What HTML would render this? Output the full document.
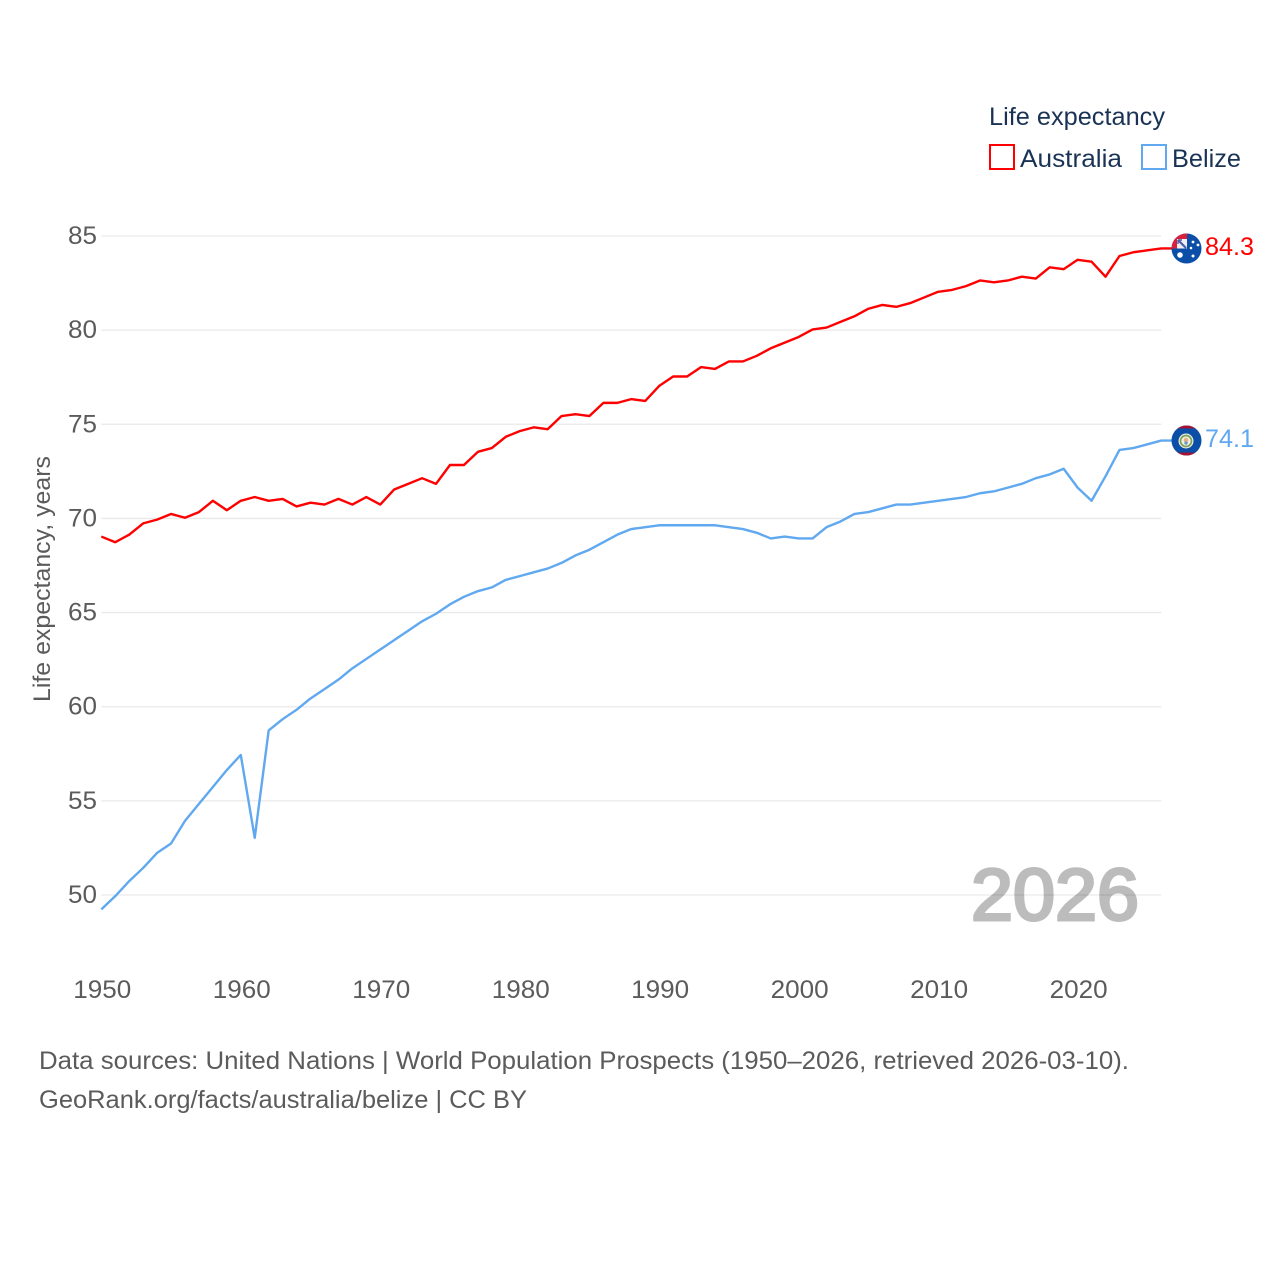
<!DOCTYPE html>
<html>
<head>
<meta charset="utf-8">
<title>Life expectancy: Australia and Belize</title>
<style>
html,body{margin:0;padding:0;background:#fff;width:1280px;height:1280px;overflow:hidden}
svg{display:block}
text{font-family:"Liberation Sans",sans-serif}
</style>
</head>
<body>
<svg id="chart" xmlns="http://www.w3.org/2000/svg" width="1280" height="1280" viewBox="0 0 1280 1280">
  <defs>
    <clipPath id="flag-au-clip"><circle cx="1186.5" cy="248.5" r="15"/></clipPath>
    <clipPath id="flag-bz-clip"><circle cx="1186.5" cy="440.5" r="15"/></clipPath>
  </defs>
  <g id="grid"></g>
  <g id="y-ticks"></g>
  <g id="x-ticks"></g>
  <text transform="translate(50,702) rotate(-90)" font-size="24" fill="#5b5b5b" textLength="246" lengthAdjust="spacingAndGlyphs">Life expectancy, years</text>
  <g id="series"></g>

  <g>
    <text x="989" y="125" font-size="25" fill="#1a3355" textLength="176" lengthAdjust="spacingAndGlyphs">Life expectancy</text>
    <g>
      <rect x="990" y="145" width="24" height="24" fill="#fff" stroke="#ff0000" stroke-width="2"/>
      <text x="1020" y="167" font-size="25" fill="#1a3355" textLength="102" lengthAdjust="spacingAndGlyphs">Australia</text>
    </g>
    <g>
      <rect x="1142" y="145" width="24" height="24" fill="#fff" stroke="#60a8f0" stroke-width="2"/>
      <text x="1172" y="167" font-size="25" fill="#1a3355" textLength="69" lengthAdjust="spacingAndGlyphs">Belize</text>
    </g>
  </g>

  <g clip-path="url(#flag-au-clip)">
    <rect x="1171" y="233" width="31" height="31" fill="#0a4ea8"/>
    <rect x="1172" y="233" width="15" height="15.5" fill="#d8203c"/>
    <rect x="1177" y="239" width="10" height="9.5" fill="#f1eef2"/>
    <path d="M1178 240l8 8" stroke="#4a5fa8" stroke-width="2.2"/>
    <path d="M1178 240v4M1178 240h4" stroke="#4a5fa8" stroke-width="1.4"/>
    <circle cx="1180" cy="255" r="2.8" fill="#fff"/>
    <circle cx="1193" cy="242" r="1.4" fill="#fff"/>
    <circle cx="1198" cy="245" r="1.4" fill="#fff"/>
    <circle cx="1191" cy="248" r="1.3" fill="#fff"/>
    <circle cx="1193" cy="256" r="1.5" fill="#fff"/>
  </g>
  <text x="1205" y="255" font-size="25" fill="#ff0000" textLength="49" lengthAdjust="spacingAndGlyphs">84.3</text>

  <g clip-path="url(#flag-bz-clip)">
    <rect x="1171" y="425" width="31" height="32" fill="#0a4ea8"/>
    <rect x="1171" y="425" width="31" height="3.4" fill="#a8122e"/>
    <rect x="1171" y="452.6" width="31" height="3.4" fill="#a8122e"/>
    <circle cx="1186" cy="441" r="7.5" fill="#eef0e0"/>
    <circle cx="1186" cy="441" r="5.5" fill="none" stroke="#7da060" stroke-width="1.7"/>
    <circle cx="1186" cy="440" r="2.3" fill="#e8b080"/>
    <circle cx="1186" cy="443" r="1.7" fill="#6a9ac8"/>
  </g>
  <text x="1205" y="447" font-size="25" fill="#60a8f0" textLength="49" lengthAdjust="spacingAndGlyphs">74.1</text>

  <text x="971" y="920" font-size="73" fill="#000000" stroke="#000000" stroke-width="3" opacity="0.26" textLength="168" lengthAdjust="spacingAndGlyphs">2026</text>

  <text x="39" y="1069" font-size="25" fill="#5b5b5b" textLength="1090" lengthAdjust="spacingAndGlyphs">Data sources: United Nations | World Population Prospects (1950–2026, retrieved 2026-03-10).</text>
  <text x="39" y="1108" font-size="25" fill="#5b5b5b" textLength="488" lengthAdjust="spacingAndGlyphs">GeoRank.org/facts/australia/belize | CC BY</text>
</svg>
<script>
const years = [1950,1951,1952,1953,1954,1955,1956,1957,1958,1959,1960,1961,1962,1963,1964,1965,1966,1967,1968,1969,1970,1971,1972,1973,1974,1975,1976,1977,1978,1979,1980,1981,1982,1983,1984,1985,1986,1987,1988,1989,1990,1991,1992,1993,1994,1995,1996,1997,1998,1999,2000,2001,2002,2003,2004,2005,2006,2007,2008,2009,2010,2011,2012,2013,2014,2015,2016,2017,2018,2019,2020,2021,2022,2023,2024,2025,2026];
const australia = [69.0,68.7,69.1,69.7,69.9,70.2,70.0,70.3,70.9,70.4,70.9,71.1,70.9,71.0,70.6,70.8,70.7,71.0,70.7,71.1,70.7,71.5,71.8,72.1,71.8,72.8,72.8,73.5,73.7,74.3,74.6,74.8,74.7,75.4,75.5,75.4,76.1,76.1,76.3,76.2,77.0,77.5,77.5,78.0,77.9,78.3,78.3,78.6,79.0,79.3,79.6,80.0,80.1,80.4,80.7,81.1,81.3,81.2,81.4,81.7,82.0,82.1,82.3,82.6,82.5,82.6,82.8,82.7,83.3,83.2,83.7,83.6,82.8,83.9,84.1,84.2,84.3];
const belize = [49.2,49.9,50.7,51.4,52.2,52.7,53.9,54.8,55.7,56.6,57.4,53.0,58.7,59.3,59.8,60.4,60.9,61.4,62.0,62.5,63.0,63.5,64.0,64.5,64.9,65.4,65.8,66.1,66.3,66.7,66.9,67.1,67.3,67.6,68.0,68.3,68.7,69.1,69.4,69.5,69.6,69.6,69.6,69.6,69.6,69.5,69.4,69.2,68.9,69.0,68.9,68.9,69.5,69.8,70.2,70.3,70.5,70.7,70.7,70.8,70.9,71.0,71.1,71.3,71.4,71.6,71.8,72.1,72.3,72.6,71.6,70.9,72.2,73.6,73.7,73.9,74.1];
const yTickValues = [50,55,60,65,70,75,80,85];
const xTickValues = [1950,1960,1970,1980,1990,2000,2010,2020];

const NS = 'http://www.w3.org/2000/svg';
function xScale(year) { return 101.3 + (year - 1950) * (1161.3 - 101.3) / (2026 - 1950); }
function yScale(value) { return 895 - (value - 50) * (895 - 236) / (85 - 50); }
function lineY(value) { return yScale(value) - 0.7; }

const gridGroup = document.getElementById('grid');
const yTickGroup = document.getElementById('y-ticks');
const xTickGroup = document.getElementById('x-ticks');
const seriesGroup = document.getElementById('series');

yTickValues.forEach(function (value) {
  const line = document.createElementNS(NS, 'line');
  
  
  line.setAttribute('x1', xScale(1950));
  line.setAttribute('x2', xScale(2026));
  line.setAttribute('y1', yScale(value));
  line.setAttribute('y2', yScale(value));
  line.setAttribute('stroke', '#e9e9e9');
  line.setAttribute('stroke-width', '1.3');
  gridGroup.appendChild(line);

  const label = document.createElementNS(NS, 'text');
  
  
  label.setAttribute('x', 68);
  label.setAttribute('y', yScale(value) + 8);
  label.setAttribute('font-size', '25');
  label.setAttribute('fill', '#5b5b5b');
  label.setAttribute('textLength', '29');
  label.setAttribute('lengthAdjust', 'spacingAndGlyphs');
  label.textContent = String(value);
  yTickGroup.appendChild(label);
});

xTickValues.forEach(function (year) {
  const label = document.createElementNS(NS, 'text');
  
  
  label.setAttribute('x', xScale(year) - 28);
  label.setAttribute('y', 998);
  label.setAttribute('font-size', '25');
  label.setAttribute('fill', '#5b5b5b');
  label.setAttribute('textLength', '58');
  label.setAttribute('lengthAdjust', 'spacingAndGlyphs');
  label.textContent = String(year);
  xTickGroup.appendChild(label);
});

function drawSeries(name, values, color) {
  let d = '';
  values.forEach(function (value, i) {
    d += (i === 0 ? 'M' : 'L') + xScale(years[i]).toFixed(2) + ' ' + lineY(value).toFixed(2);
  });
  d += 'L1172 ' + lineY(values[values.length - 1]).toFixed(2);
  const path = document.createElementNS(NS, 'path');
  
  
  path.setAttribute('d', d);
  path.setAttribute('fill', 'none');
  path.setAttribute('stroke', color);
  path.setAttribute('stroke-width', '2.4');
  path.setAttribute('stroke-linejoin', 'round');
  seriesGroup.appendChild(path);
}
drawSeries('australia', australia, '#ff0000');
drawSeries('belize', belize, '#60a8f0');
</script>
</body>
</html>
